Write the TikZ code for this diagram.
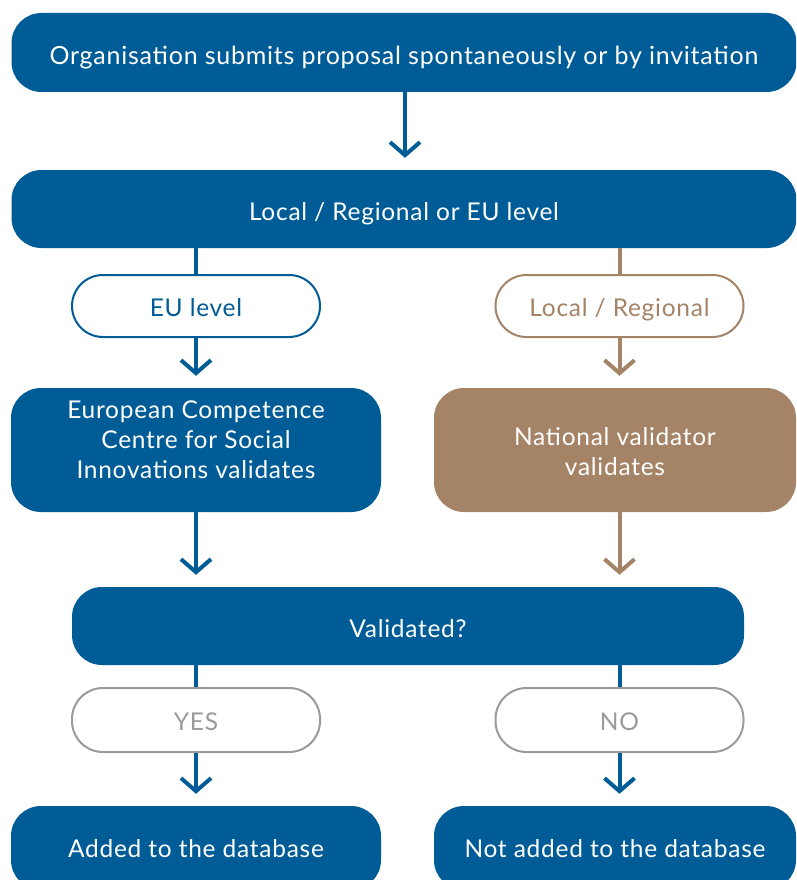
\documentclass[tikz,border=0pt]{standalone}
\usepackage{fontspec}
\setmainfont{Lato}[LetterSpace=3]
\usetikzlibrary{arrows.meta}
\definecolor{eublue}{HTML}{005C97}
\definecolor{brn}{HTML}{A58366}
\definecolor{gry}{HTML}{9A9A9A}
\newcommand{\mlines}[1]{\begin{tabular}[b]{@{}c@{}}#1\end{tabular}}
\tikzset{
  box/.style={fill=#1, text=white, rounded corners=30pt, inner sep=0pt,
    text height=22pt, text depth=0pt,
    font=\fontsize{24.5}{30}\selectfont},
  pill/.style={draw=#1, fill=white, line width=2pt, rounded corners=31pt, inner sep=0pt,
    minimum width=248pt, minimum height=62pt, text=#1, text height=21pt, text depth=0pt,
    font=\fontsize{24.5}{30}\selectfont},
  arr/.style={draw=#1, line width=4pt, -{Straight Barb[length=13pt,width=30pt]}, shorten >=12pt},
  link/.style={draw=#1, line width=4pt}
}
\begin{document}
\begin{tikzpicture}[x=1pt,y=-1pt]
\useasboundingbox (0,0) rectangle (796,880);
\fill[white] (0,0) rectangle (796,880);
\clip (0,0) rectangle (796,880);

\node[box=eublue, minimum width=785pt, minimum height=79pt, text height=25pt,
  font=\fontsize{25}{30}\selectfont] (top) at (404,52.5)
  {Organisation submits proposal spontaneously or by invitation};
\node[box=eublue, minimum width=785pt, minimum height=78pt] (lvl) at (404,209)
  {Local / Regional or EU level};
\node[pill=eublue] (eu) at (196,306) {EU level};
\node[pill=brn] (lr) at (619.5,306) {Local / Regional};
\node[box=eublue, minimum width=370pt, minimum height=124pt, text height=56pt] (ec) at (196,450)
  {\mlines{European Competence\\Centre for Social\\Innovations validates}};
\node[box=brn, minimum width=362pt, minimum height=124pt, text height=50pt] (nat) at (615,450)
  {\mlines{National validator\\validates}};
\node[box=eublue, minimum width=672pt, minimum height=78pt] (val) at (408,626)
  {Validated?};
\node[pill=gry, minimum height=64pt] (yes) at (196,720) {YES};
\node[pill=gry, minimum height=64pt] (no) at (619.5,720) {NO};
\node[box=eublue, minimum width=370pt, minimum height=84pt, text height=18pt] (add) at (196,848)
  {Added to the database};
\node[box=eublue, minimum width=362pt, minimum height=84pt, text height=18pt] (nadd) at (615,848)
  {Not added to the database};

\draw[arr=eublue] (top.south -| 405,0) -- (lvl.north -| 405,0);
\draw[link=eublue] (lvl.south -| eu.north) -- (eu.north);
\draw[link=brn] (lvl.south -| lr.north) -- (lr.north);
\draw[arr=eublue] (eu.south) -- (ec.north -| eu.south);
\draw[arr=brn] (lr.south) -- (nat.north -| lr.south);
\draw[arr=eublue] (ec.south -| eu.south) -- (val.north -| eu.south);
\draw[arr=brn] (nat.south -| lr.south) -- (val.north -| lr.south);
\draw[link=eublue] (val.south -| yes.north) -- (yes.north);
\draw[link=eublue] (val.south -| no.north) -- (no.north);
\draw[arr=eublue] (yes.south) -- (add.north -| yes.south);
\draw[arr=eublue] (no.south) -- (nadd.north -| no.south);
\end{tikzpicture}
\end{document}
